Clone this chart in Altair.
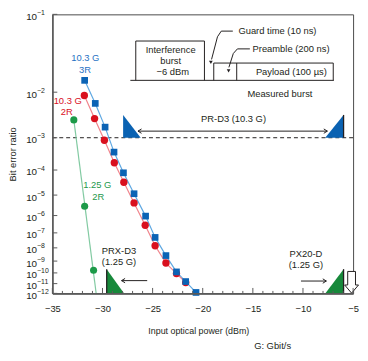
import altair as alt
import pandas as pd

FONT = "Liberation Sans"
INK = "#231f20"
AXIS_C = "#5a5a5a"
BLUE, BLUE_LINE, BLUE_TXT = "#0b63b5", "#5fa8e2", "#1f72c4"
RED, RED_LINE = "#d9101e", "#f0848c"
GREEN, GREEN_LINE, GREEN_TXT = "#1c9a48", "#82caa2", "#23994c"
TRI_BLUE, TRI_GREEN = "#0a62b2", "#17893b"

# ---------------- data (BER = 10^-k) ----------------
blue_p = [-31.78, -30.72, -29.74, -28.85, -27.91, -26.85, -25.70, -24.75, -23.67, -22.62, -21.70, -20.67]
blue_k = [1.80, 2.21, 2.73, 3.41, 4.10, 4.94, 6.03, 7.29, 8.57, 9.91, 10.8, 11.9]
red_p = [-31.81, -30.79, -29.81, -28.82, -27.87, -26.85, -25.74, -24.75, -23.67, -22.62, -21.70]
red_k = [2.06, 2.53, 3.07, 3.75, 4.46, 5.36, 6.54, 7.85, 9.16, 10.06, 10.9]
green_p = [-32.86, -31.78, -30.89]
green_k = [2.56, 5.52, 9.77]
green_fit_p = [-32.86, -30.63]
green_fit_k = [2.56, 12.0]

x_tick_values = [-35, -30, -25, -20, -15, -10, -5]
x_minor_values = [v for v in range(-34, -5) if v % 5 != 0]
y_tick_k = list(range(1, 13))
y_exponents = ["\u2212" + str(i) for i in y_tick_k]

# limits (triangles): name, P, k, k2, colour
tri_name = ["a", "a", "b", "b", "c", "c", "d", "d"]
tri_p = [-27.94, -26.19, -7.78, -5.95, -29.58, -27.84, -7.78, -5.95]
tri_k = [2.449, 3.0, 3.0, 2.449, 9.67, 12.0, 12.0, 9.67]
tri_k2 = [3.0, 3.0, 3.0, 3.0, 12.0, 12.0, 12.0, 12.0]
tri_col = [TRI_BLUE, TRI_BLUE, TRI_BLUE, TRI_BLUE, TRI_GREEN, TRI_GREEN, TRI_GREEN, TRI_GREEN]
edge_p = [-5.95, -29.58, -5.95]
edge_k = [2.449, 9.67, 9.67]
edge_k2 = [3.0, 12.0, 12.0]

# range arrows
arr_p = [-26.46, -25.54, -10.2]
arr_p2 = [-7.57, -28.10, -7.67]
arr_k = [2.829, 10.71, 10.75]
headL_p, headL_k = [-26.46, -28.10], [2.829, 10.71]
headR_p, headR_k = [-7.57, -7.67], [2.829, 10.75]
overload_p, overload_k = [-5.15], [10.87]

# burst diagram segments
seg_p1 = [-27.22, -26.68, -26.68, -19.83, -18.90, -18.90, -6.98, -16.61]
seg_k1 = [1.80, 1.268, 1.268, 1.268, 1.543, 1.543, 1.543, 1.543]
seg_p2 = [-6.92, -26.68, -19.83, -19.83, -18.90, -6.98, -6.98, -16.61]
seg_k2 = [1.80, 1.80, 1.268, 1.80, 1.80, 1.543, 1.80, 1.80]
lead_grp = ["g", "g", "g", "g", "p", "p", "p", "p"]
lead_ord = [0, 1, 2, 3, 0, 1, 2, 3]
lead_p = [-17.00, -18.15, -18.53, -19.12, -15.30, -16.54, -16.95, -17.39]
lead_k = [1.161, 1.161, 1.221, 1.494, 1.360, 1.360, 1.417, 1.603]
tip_p, tip_k = [-19.19, -17.42], [1.533, 1.653]

# texts
ctext = ["10.3 G", "3R", "10.3 G", "2R", "1.25 G", "2R", "Interference", "burst", "\u22126 dBm",
         "Payload (100 \u00b5s)", "Measured burst", "PR-D3 (10.3 G)", "PX20-D", "(1.25 G)", "G: Gbit/s"]
ctext_p = [-31.71, -31.74, -33.47, -33.57, -30.52, -30.43, -23.2, -23.2, -23.0,
           -11.16, -12.30, -16.93, -9.71, -9.71, -13.03]
ctext_k = [1.481, 1.645, 2.160, 2.384, 4.588, 5.086, 1.372, 1.52, 1.670,
           1.670, 2.026, 2.541, 8.43, 9.34, 19.1]
ctext_c = [BLUE_TXT, BLUE_TXT, RED, RED, GREEN_TXT, GREEN_TXT] + [INK] * 9
ltext = ["Guard time (10 ns)", "Preamble (200 ns)", "PRX-D3", "(1.25 G)"]
ltext_p = [-16.44, -15.03, -30.07, -30.07]
ltext_k = [1.161, 1.360, 8.23, 9.07]

W, H = 305, 283
x_scale = alt.Scale(domain=[-35, -5], nice=False, zero=False)
y_scale = alt.Scale(type="log", domain=[1, 12], reverse=True, nice=False)

x_axis = alt.Axis(values=x_tick_values, format="d", title="Input optical power (dBm)",
                  ticks=False, tickSize=0, grid=False, domainColor=AXIS_C, domainWidth=1.6,
                  labelFont=FONT, labelFontSize=9.5, labelColor=INK, labelPadding=10,
                  labelFlush=False, titleFont=FONT, titleFontSize=9, titleFontWeight="normal",
                  titleColor=INK, titleX=148, titleY=38, titleBaseline="middle",
                  titleAlign="center", zindex=1)
y_axis = alt.Axis(values=y_tick_k, labels=False, ticks=False, tickSize=0, grid=False,
                  domainColor=AXIS_C, domainWidth=1.6, title="Bit error ratio",
                  titleFont=FONT, titleFontSize=9.5, titleFontWeight="normal", titleColor=INK,
                  titleX=-35, titleY=141.5, zindex=1)


def X(f="P"):
    return alt.X(f"{f}:Q", scale=x_scale, axis=x_axis)


def Y(f="k"):
    return alt.Y(f"{f}:Q", scale=y_scale, axis=y_axis, stack=None)


dash = alt.Chart(pd.DataFrame({"k": [3]})).mark_rule(
    color=INK, strokeDash=[4, 3], strokeWidth=1).encode(y=Y())

tri = alt.Chart(pd.DataFrame({"tri": tri_name, "P": tri_p, "k": tri_k, "k2": tri_k2, "col": tri_col})
                ).mark_area(opacity=1, interpolate="linear").encode(
    x=X(), y=Y(), y2=alt.Y2("k2:Q"), detail="tri:N", color=alt.Color("col:N", scale=None))
edges = alt.Chart(pd.DataFrame({"P": edge_p, "k": edge_k, "k2": edge_k2})).mark_rule(
    color=INK, strokeWidth=1.3).encode(x=X(), y=Y(), y2=alt.Y2("k2:Q"))

arrows = alt.Chart(pd.DataFrame({"P": arr_p, "P2": arr_p2, "k": arr_k})).mark_rule(
    color=INK, strokeWidth=1).encode(x=X(), x2=alt.X2("P2:Q"), y=Y())
headL = alt.Chart(pd.DataFrame({"P": headL_p, "k": headL_k})).mark_point(
    shape="M1.8,-1.1L0,0L1.8,1.1", filled=False, color=INK, strokeWidth=1, size=16, opacity=1
).encode(x=X(), y=Y())
headR = alt.Chart(pd.DataFrame({"P": headR_p, "k": headR_k})).mark_point(
    shape="M-1.8,-1.1L0,0L-1.8,1.1", filled=False, color=INK, strokeWidth=1, size=16, opacity=1
).encode(x=X(), y=Y())
overload = alt.Chart(pd.DataFrame({"P": overload_p, "k": overload_k})).mark_point(
    shape="M-0.36,-1L0.36,-1L0.36,0.25L0.64,0.25L0,1L-0.64,0.25L-0.36,0.25Z",
    filled=True, fill="white", stroke=INK, strokeWidth=1, size=484, opacity=1
).encode(x=X(), y=Y())

segs = alt.Chart(pd.DataFrame({"P": seg_p1, "k": seg_k1, "P2": seg_p2, "k2": seg_k2})).mark_rule(
    color=INK, strokeWidth=1).encode(x=X(), y=Y(), x2=alt.X2("P2:Q"), y2=alt.Y2("k2:Q"))
leads = alt.Chart(pd.DataFrame({"g": lead_grp, "o": lead_ord, "P": lead_p, "k": lead_k})).mark_line(
    color=INK, strokeWidth=1).encode(x=X(), y=Y(), detail="g:N", order="o:Q")
tips = alt.Chart(pd.DataFrame({"P": tip_p, "k": tip_k})).mark_point(
    shape="triangle-down", filled=True, color=INK, size=14, opacity=1).encode(x=X(), y=Y())

line_b = alt.Chart(pd.DataFrame({"P": blue_p, "k": blue_k})).mark_line(
    color=BLUE_LINE, strokeWidth=1.2).encode(x=X(), y=Y())
line_r = alt.Chart(pd.DataFrame({"P": red_p, "k": red_k})).mark_line(
    color=RED_LINE, strokeWidth=1.2).encode(x=X(), y=Y())
line_g = alt.Chart(pd.DataFrame({"P": green_fit_p, "k": green_fit_k})).mark_line(
    color=GREEN_LINE, strokeWidth=1.2).encode(x=X(), y=Y())

pts_g = alt.Chart(pd.DataFrame({"P": green_p, "k": green_k})).mark_point(
    shape="circle", filled=True, color=GREEN, size=52, opacity=1).encode(x=X(), y=Y())
pts_r = alt.Chart(pd.DataFrame({"P": red_p, "k": red_k})).mark_point(
    shape="circle", filled=True, color=RED, size=56, opacity=1).encode(x=X(), y=Y())
pts_b = alt.Chart(pd.DataFrame({"P": blue_p, "k": blue_k})).mark_point(
    shape="square", filled=True, color=BLUE, size=46, opacity=1).encode(x=X(), y=Y())

ctexts = alt.Chart(pd.DataFrame({"t": ctext, "P": ctext_p, "k": ctext_k, "c": ctext_c})).mark_text(
    font=FONT, fontSize=9.5, align="center", baseline="middle").encode(
    x=X(), y=Y(), text="t:N", color=alt.Color("c:N", scale=None))
ltexts = alt.Chart(pd.DataFrame({"t": ltext, "P": ltext_p, "k": ltext_k})).mark_text(
    font=FONT, fontSize=9.5, align="left", baseline="middle", color=INK).encode(
    x=X(), y=Y(), text="t:N")

xmaj = alt.Chart(pd.DataFrame({"P": x_tick_values})).mark_rule(color=AXIS_C, strokeWidth=1).encode(
    x=X(), y=alt.value(H), y2=alt.value(H - 5.5))
xmin = alt.Chart(pd.DataFrame({"P": x_minor_values})).mark_rule(color=AXIS_C, strokeWidth=1).encode(
    x=X(), y=alt.value(H), y2=alt.value(H - 2.5))
ytk = alt.Chart(pd.DataFrame({"k": y_tick_k})).mark_rule(color=AXIS_C, strokeWidth=1).encode(
    y=Y(), x=alt.value(0), x2=alt.value(5))
ylab_df = pd.DataFrame({"k": y_tick_k, "e": y_exponents, "b": ["10"] * len(y_tick_k)})
ylab10 = alt.Chart(ylab_df).mark_text(font=FONT, fontSize=10, align="right", baseline="middle",
                                      color=INK, dy=2.5).encode(y=Y(), x=alt.value(-15.5), text="b:N")
ylabe = alt.Chart(ylab_df).mark_text(font=FONT, fontSize=7, align="left", baseline="middle",
                                     color=INK, dy=-1.5).encode(y=Y(), x=alt.value(-15.5), text="e:N")

chart = alt.layer(
    dash, tri, edges, arrows, headL, headR, segs, leads, tips,
    line_b, line_r, line_g, pts_g, pts_r, pts_b,
    overload, ctexts, ltexts, xmaj, xmin, ytk, ylab10, ylabe
).properties(
    width=W, height=H,
    autosize=alt.AutoSizeParams(type="none"),
    padding={"left": 45, "top": 4, "right": 7, "bottom": 57},
).configure_view(stroke="#4a4a4a", strokeWidth=1)

chart.save("out.html", embed_options={"renderer": "svg", "actions": False})
